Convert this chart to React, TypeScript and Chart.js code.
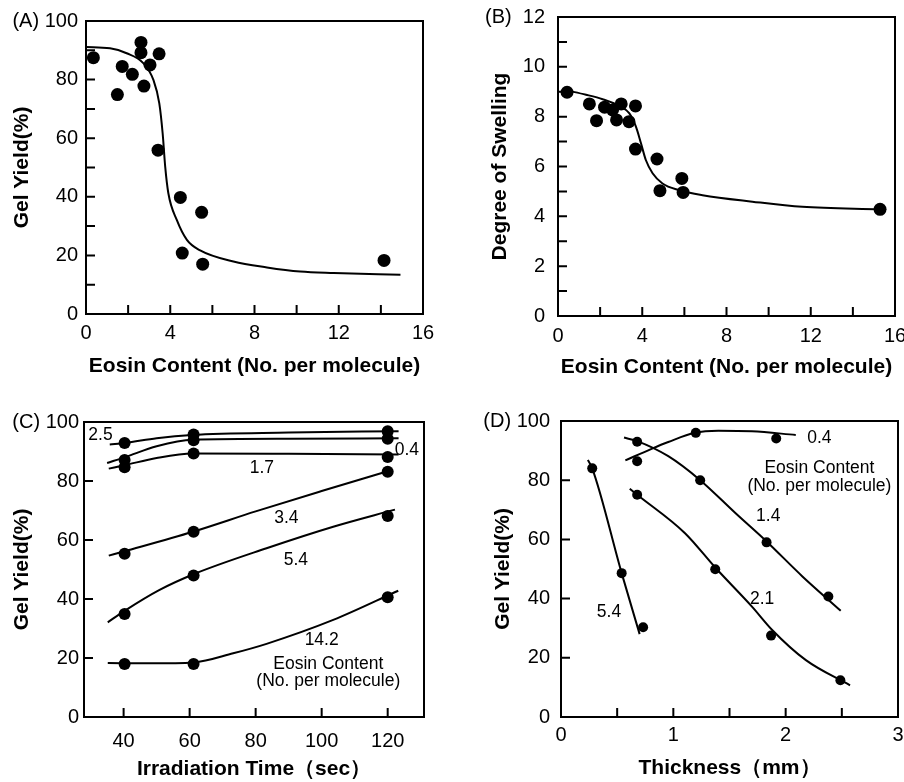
import React, { useEffect, useRef } from "react";
import { Chart, registerables } from "chart.js";

Chart.register(...registerables);

const FONT = "'Liberation Sans', Arial, Helvetica, sans-serif";
Chart.defaults.font.family = FONT;
Chart.defaults.color = "#000";

// ---------- Panel A: Gel yield vs eosin content ----------
const aEosin = [0.35, 1.49, 1.72, 2.2, 2.61, 2.61, 2.75, 3.04, 3.47, 3.42, 4.48, 4.57, 5.49, 5.54, 14.15];
const aGel = [87.5, 74.9, 84.5, 81.8, 92.7, 89.2, 77.8, 85.0, 88.8, 55.9, 39.8, 20.8, 34.7, 17.0, 18.3];
const aFitX = [0, 1.14, 1.93, 2.72, 3.2, 3.48, 3.64, 3.76, 3.91, 4.31, 4.79, 5.42, 7.0, 8.59, 10.17, 11.76, 14.93];
const aFitY = [91.1, 90.7, 89.0, 85.6, 79.9, 71.9, 61.6, 50.3, 41.2, 32.1, 25.3, 21.7, 17.9, 15.9, 14.5, 14.0, 13.4];
const aXTicks = [0, 4, 8, 12, 16];
const aYTicks = [0, 20, 40, 60, 80, 100];
const aXMarks = [2, 4, 6, 8, 10, 12, 14];
const aYMarks = [10, 20, 30, 40, 50, 60, 70, 80, 90];

// ---------- Panel B: Degree of swelling vs eosin content ----------
const bEosin = [0.43, 1.49, 1.83, 2.21, 2.59, 2.78, 3.0, 3.37, 3.68, 3.68, 4.7, 4.84, 5.88, 5.94, 15.29];
const bSwell = [8.98, 8.51, 7.84, 8.38, 8.27, 7.87, 8.51, 7.8, 8.43, 6.7, 6.3, 5.03, 5.52, 4.96, 4.28];
const bFitX = [0.43, 1.33, 2.12, 2.91, 3.38, 3.7, 3.94, 4.17, 4.49, 4.96, 5.76, 6.86, 9.23, 11.6, 15.29];
const bFitY = [9.05, 8.88, 8.7, 8.43, 8.14, 7.6, 6.93, 6.26, 5.73, 5.32, 5.05, 4.85, 4.59, 4.38, 4.28];
const bXTicks = [0, 4, 8, 12, 16];
const bYTicks = [0, 2, 4, 6, 8, 10, 12];
const bXMarks = [2, 4, 6, 8, 10, 12, 14];
const bYMarks = [1, 2, 3, 4, 5, 6, 7, 8, 9, 10, 11];

// ---------- Panel C: Gel yield vs irradiation time ----------
const cTime = [40.3, 61.2, 120];
const c25 = [92.9, 95.8, 96.9];
const c04 = [87.1, 93.8, 94.3];
const c17 = [84.7, 89.3, 88.1];
const c34 = [55.3, 62.8, 83.1];
const c54 = [34.9, 48.0, 68.1];
const c142 = [18.0, 18.0, 40.6];
const c25FitX = [35.8, 40.5, 50, 60.7, 90, 123.3];
const c25FitY = [92.4, 92.9, 94.5, 95.6, 96.4, 96.9];
const c04FitX = [35, 40.5, 50, 61, 90, 123.3];
const c04FitY = [86.1, 88.1, 91.8, 94.0, 94.3, 94.5];
const c17FitX = [35.5, 40.5, 50, 61, 90, 123.3];
const c17FitY = [84.2, 85.4, 87.8, 89.3, 89.2, 89.0];
const c34FitX = [35.5, 40, 61, 80, 100, 120.5];
const c34FitY = [54.7, 56.1, 62.8, 69.7, 76.6, 83.5];
const c54FitX = [35.2, 40.3, 50.9, 61.2, 83.3, 103.5, 122.2];
const c54FitY = [32.1, 36.0, 43.1, 48.4, 57.2, 64.5, 70.3];
const c142FitX = [35.2, 48, 61.2, 73.2, 83.3, 103.5, 123.2];
const c142FitY = [18.3, 18.2, 18.5, 21.6, 24.8, 32.9, 42.8];
const cXTicks = [40, 60, 80, 100, 120];
const cYTicks = [0, 20, 40, 60, 80, 100];
const cXMarks = [40, 60, 80, 100, 120];
const cYMarks = [20, 40, 60, 80];
const cNoteX = [33, 125.8, 81.9, 89.3, 92.2, 100, 102, 102];
const cNoteY = [95.5, 90.6, 84.5, 67.3, 53, 26.2, 18, 12.3];
const cNoteText = ["2.5", "0.4", "1.7", "3.4", "5.4", "14.2", "Eosin Content", "(No. per molecule)"];

// ---------- Panel D: Gel yield vs thickness ----------
const d04X = [0.678, 1.2, 1.916];
const d04Y = [86.4, 96.0, 94.1];
const d14X = [0.678, 1.239, 1.83, 2.38];
const d14Y = [93, 80, 59, 40.7];
const d21X = [0.678, 1.373, 1.87, 2.487];
const d21Y = [75.1, 49.9, 27.5, 12.4];
const d54X = [0.278, 0.54, 0.731];
const d54Y = [84, 48.6, 30.3];
const d04FitX = [0.573, 0.806, 0.955, 1.19, 1.4, 1.7, 2.09];
const d04FitY = [86.7, 90.6, 92.9, 96.0, 96.7, 96.5, 95.3];
const d14FitX = [0.561, 0.678, 0.955, 1.239, 1.552, 1.83, 2.149, 2.49];
const d14FitY = [94.4, 93.2, 88.1, 80.0, 68.9, 59.3, 47.5, 35.9];
const d21FitX = [0.612, 0.678, 1.104, 1.373, 1.7, 1.88, 2.18, 2.573];
const d21FitY = [77.1, 75.1, 62.1, 50.5, 37.3, 29.4, 19.2, 10.7];
const d54FitX = [0.239, 0.278, 0.54, 0.7];
const d54FitY = [86.8, 84, 48.6, 28];
const dXTicks = [0, 1, 2, 3];
const dYTicks = [0, 20, 40, 60, 80, 100];
const dXMarks = [0.5, 1, 1.5, 2, 2.5];
const dYMarks = [20, 40, 60, 80];
const dNoteX = [2.3, 2.3, 2.3, 1.845, 1.79, 0.427];
const dNoteY = [94.1, 84.2, 78.0, 67.8, 39.8, 35.3];
const dNoteText = ["0.4", "Eosin Content", "(No. per molecule)", "1.4", "2.1", "5.4"];

type Pt = { x: number; y: number };
const zip = (xs: number[], ys: number[]): Pt[] => xs.map((x, i) => ({ x, y: ys[i] }));
const notes = (xs: number[], ys: number[], ts: string[]) => xs.map((x, i) => ({ x, y: ys[i], text: ts[i] }));

interface Layout {
  left: number; top: number; w: number; h: number;
  padTop: number; padRight: number; yWidth: number; xHeight: number;
  yTitlePad: number; xTitlePad: number; yTickPad: number; xTickPad: number;
  tagGap: string; radius: number;
}

interface Spec {
  id: string; tag: string;
  xMin: number; xMax: number; yMin: number; yMax: number;
  xTicks: number[]; yTicks: number[]; xMarks: number[]; yMarks: number[];
  xTitle: string; yTitle: string;
  points: Pt[][]; curves: Pt[][];
  notes: { x: number; y: number; text: string }[];
  lay: Layout;
}

const specs: Spec[] = [
  {
    id: "A", tag: "(A)", xMin: 0, xMax: 16, yMin: 0, yMax: 100,
    xTicks: aXTicks, yTicks: aYTicks, xMarks: aXMarks, yMarks: aYMarks,
    xTitle: "Eosin Content (No. per molecule)", yTitle: "Gel Yield(%)",
    points: [zip(aEosin, aGel)], curves: [zip(aFitX, aFitY)], notes: [],
    lay: { left: 0, top: 0, w: 452, h: 390, padTop: 21, padRight: 29, yWidth: 86, xHeight: 76,
      yTitlePad: 9.4, xTitlePad: 11.4, yTickPad: 8, xTickPad: 7.5, tagGap: " ", radius: 6.5 },
  },
  {
    id: "B", tag: "(B)", xMin: 0, xMax: 16, yMin: 0, yMax: 12,
    xTicks: bXTicks, yTicks: bYTicks, xMarks: bXMarks, yMarks: bYMarks,
    xTitle: "Eosin Content (No. per molecule)", yTitle: "Degree of Swelling",
    points: [zip(bEosin, bSwell)], curves: [zip(bFitX, bFitY)], notes: [],
    lay: { left: 452, top: 0, w: 452, h: 390, padTop: 17, padRight: 9, yWidth: 106, xHeight: 74,
      yTitlePad: 35.4, xTitlePad: 10.4, yTickPad: 13, xTickPad: 8.3, tagGap: "  ", radius: 6.5 },
  },
  {
    id: "C", tag: "(C)", xMin: 28, xMax: 131, yMin: 0, yMax: 100,
    xTicks: cXTicks, yTicks: cYTicks, xMarks: cXMarks, yMarks: cYMarks,
    xTitle: "Irradiation Time（sec）", yTitle: "Gel Yield(%)",
    points: [zip(cTime, c25), zip(cTime, c04), zip(cTime, c17), zip(cTime, c34), zip(cTime, c54), zip(cTime, c142)],
    curves: [zip(c25FitX, c25FitY), zip(c04FitX, c04FitY), zip(c17FitX, c17FitY), zip(c34FitX, c34FitY), zip(c54FitX, c54FitY), zip(c142FitX, c142FitY)],
    notes: notes(cNoteX, cNoteY, cNoteText),
    lay: { left: 0, top: 390, w: 452, h: 392, padTop: 32, padRight: 28, yWidth: 84, xHeight: 65,
      yTitlePad: 9.4, xTitlePad: 0, yTickPad: 5, xTickPad: 12, tagGap: " ", radius: 6 },
  },
  {
    id: "D", tag: "(D)", xMin: 0, xMax: 3, yMin: 0, yMax: 100,
    xTicks: dXTicks, yTicks: dYTicks, xMarks: dXMarks, yMarks: dYMarks,
    xTitle: "Thickness（mm）", yTitle: "Gel Yield(%)",
    points: [zip(d04X, d04Y), zip(d14X, d14Y), zip(d21X, d21Y), zip(d54X, d54Y)],
    curves: [zip(d04FitX, d04FitY), zip(d14FitX, d14FitY), zip(d21FitX, d21FitY), zip(d54FitX, d54FitY)],
    notes: notes(dNoteX, dNoteY, dNoteText),
    lay: { left: 452, top: 390, w: 452, h: 392, padTop: 31, padRight: 6, yWidth: 109, xHeight: 65,
      yTitlePad: 38.4, xTitlePad: 1.4, yTickPad: 11, xTickPad: 6, tagGap: " ", radius: 5 },
  },
];

function buildConfig(s: Spec): any {
  const L = s.lay;
  const framePlugin = {
    id: "frame" + s.id,
    afterDatasetsDraw(chart: any) {
      const { ctx, chartArea: a, scales } = chart;
      ctx.save();
      ctx.strokeStyle = "#000";
      ctx.lineWidth = 2;
      ctx.strokeRect(a.left, a.top, a.right - a.left, a.bottom - a.top);
      ctx.beginPath();
      for (const v of s.xMarks) {
        const px = scales.x.getPixelForValue(v);
        ctx.moveTo(px, a.bottom);
        ctx.lineTo(px, a.bottom - 9);
      }
      for (const v of s.yMarks) {
        const py = scales.y.getPixelForValue(v);
        ctx.moveTo(a.left, py);
        ctx.lineTo(a.left + 9, py);
      }
      ctx.stroke();
      ctx.fillStyle = "#000";
      ctx.font = `17.5px ${FONT}`;
      ctx.textAlign = "center";
      ctx.textBaseline = "middle";
      for (const n of s.notes) {
        ctx.fillText(n.text, scales.x.getPixelForValue(n.x), scales.y.getPixelForValue(n.y));
      }
      ctx.restore();
    },
  };

  const datasets: any[] = [];
  s.curves.forEach((c) =>
    datasets.push({
      data: c,
      showLine: true,
      borderColor: "#000",
      borderWidth: 2,
      pointRadius: 0,
      cubicInterpolationMode: "monotone",
      fill: false,
    })
  );
  s.points.forEach((p) =>
    datasets.push({
      data: p,
      showLine: false,
      pointRadius: L.radius,
      pointBackgroundColor: "#000",
      pointBorderWidth: 0,
      pointHoverRadius: L.radius,
    })
  );

  return {
    type: "scatter",
    data: { datasets },
    plugins: [framePlugin],
    options: {
      responsive: false,
      animation: false,
      events: [],
      layout: { padding: { left: 0, top: L.padTop, right: L.padRight, bottom: 0 } },
      plugins: { legend: { display: false }, tooltip: { enabled: false } },
      scales: {
        x: {
          type: "linear",
          min: s.xMin,
          max: s.xMax,
          afterBuildTicks: (sc: any) => {
            sc.ticks = s.xTicks.map((v) => ({ value: v }));
          },
          afterFit: (sc: any) => {
            sc.height = L.xHeight;
            sc.paddingLeft = 0;
            sc.paddingRight = 0;
          },
          grid: { display: false, drawTicks: false },
          border: { display: false },
          ticks: {
            padding: L.xTickPad,
            font: { size: 20 },
            color: "#000",
            maxRotation: 0,
            autoSkip: false,
            callback: (v: any) => String(v),
          },
          title: {
            display: true,
            text: s.xTitle,
            color: "#000",
            font: { size: 21, weight: "bold" },
            padding: { top: 0, bottom: L.xTitlePad },
          },
        },
        y: {
          type: "linear",
          min: s.yMin,
          max: s.yMax,
          afterBuildTicks: (sc: any) => {
            sc.ticks = s.yTicks.map((v) => ({ value: v }));
          },
          afterFit: (sc: any) => {
            sc.width = L.yWidth;
            sc.paddingTop = 0;
            sc.paddingBottom = 0;
          },
          grid: { display: false, drawTicks: false },
          border: { display: false },
          ticks: {
            padding: L.yTickPad,
            font: { size: 20 },
            color: "#000",
            autoSkip: false,
            callback: (v: any) => (v === s.yMax ? `${s.tag}${L.tagGap}${v}` : String(v)),
          },
          title: {
            display: true,
            text: s.yTitle,
            color: "#000",
            font: { size: 21, weight: "bold" },
            padding: { top: L.yTitlePad, bottom: 0 },
          },
        },
      },
    },
  };
}

function Panel({ spec }: { spec: Spec }) {
  const ref = useRef<HTMLCanvasElement>(null);
  useEffect(() => {
    const chart = new Chart(ref.current as HTMLCanvasElement, buildConfig(spec));
    return () => chart.destroy();
  }, [spec]);
  const L = spec.lay;
  return (
    <canvas
      ref={ref}
      width={L.w}
      height={L.h}
      style={{ position: "absolute", left: L.left, top: L.top, width: L.w, height: L.h }}
    />
  );
}

export default function App() {
  return (
    <div style={{ position: "absolute", left: 0, top: 0, width: 904, height: 782, background: "#fff", overflow: "hidden" }}>
      {specs.map((s) => (
        <Panel key={s.id} spec={s} />
      ))}
    </div>
  );
}
